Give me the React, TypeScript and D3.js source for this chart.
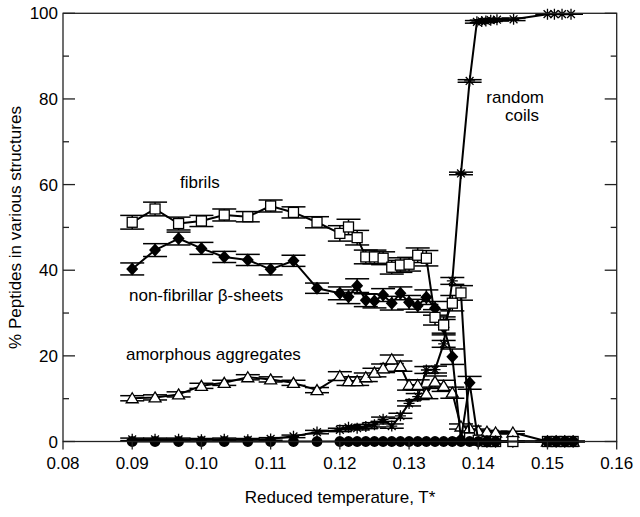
import React from "react";
import * as d3 from "d3";

// Reduced temperature grid (shared by most series)
const temps = [
  0.09, 0.0933, 0.0967, 0.1, 0.1033, 0.1067, 0.11, 0.1133, 0.1167,
  0.12, 0.12125, 0.1225, 0.12375, 0.125, 0.12625, 0.1275, 0.12875, 0.13, 0.13125,
  0.1325, 0.13375, 0.135, 0.13625, 0.1375, 0.13875, 0.14, 0.14125, 0.1425, 0.145,
  0.15, 0.15125, 0.1525, 0.1537,
];
const fibrils = [
  51.2, 54.3, 50.9, 51.5, 52.9, 52.5, 55.0, 53.5, 51.2,
  48.6, 50.1, 47.6, 43.1, 43.1, 42.8, 40.7, 41.2, 41.4, 43.5,
  42.8, 29.0, 27.2, 32.3, 34.7, 0.8, 0.3, 0, 0, 0,
  0, 0, 0, 0,
];
const fibrilsErr = [
  1.6, 1.6, 1.5, 1.3, 1.4, 1.2, 1.4, 1.3, 1.3,
  1.8, 1.8, 1.7, 1.6, 1.6, 1.5, 1.6, 1.7, 1.6, 1.7,
  1.8, 1.8, 1.9, 1.8, 1.7, 0.3, 0.2, 0, 0, 0,
  0, 0, 0, 0,
];
const betaSheets = [
  40.3, 44.7, 47.4, 45.1, 43.1, 42.4, 40.2, 42.2, 35.8,
  34.6, 33.8, 36.4, 33.0, 32.8, 34.2, 32.3, 34.6, 32.5, 31.7,
  33.7, 31.1, 26.7, 19.8, 0.5, 13.7, 0, 0, 0, 0,
  0, 0, 0, 0,
];
const betaErr = [
  1.4, 1.5, 1.5, 1.4, 1.3, 1.3, 1.3, 1.3, 1.2,
  1.5, 1.6, 1.6, 1.5, 1.6, 1.5, 1.6, 1.5, 1.6, 1.5,
  1.7, 1.6, 1.8, 1.8, 0.3, 1.5, 0, 0, 0, 0,
  0, 0, 0, 0,
];
const amorphous = [
  10.1, 10.3, 11.0, 13.0, 13.7, 15.0, 14.5, 13.7, 12.0,
  15.3, 14.1, 14.1, 15.0, 16.1, 17.1, 19.2, 17.6, 13.2, 13.2,
  11.2, 14.0, 13.0, 11.4, 3.5, 3.1, 2.5, 2.3, 2.1, 2.1,
  0, 0, 0, 0,
];
const amorphousErr = [
  0.6, 0.6, 0.6, 0.6, 0.6, 0.6, 0.6, 0.6, 0.6,
  1.0, 1.0, 1.0, 1.0, 1.0, 1.0, 1.0, 1.2, 1.2, 1.2,
  1.2, 1.3, 1.3, 1.3, 0.6, 0.5, 0.4, 0.3, 0.3, 0.3,
  0, 0, 0, 0,
];
// Random coils have a few extra temperatures near T* = 0.14
const tempsCoil = [
  0.09, 0.0933, 0.0967, 0.1, 0.1033, 0.1067, 0.11, 0.1133, 0.1167,
  0.12, 0.12125, 0.1225, 0.12375, 0.125, 0.12625, 0.1275, 0.12875, 0.13, 0.13125,
  0.1325, 0.13375, 0.135, 0.13625, 0.1375, 0.13875, 0.1398, 0.1405, 0.1411, 0.1418, 0.1427, 0.1451,
  0.15, 0.1510, 0.1521, 0.1534,
];
const randomCoils = [
  0.5, 0.5, 0.5, 0.4, 0.5, 0.4, 0.6, 1.2, 2.2,
  2.7, 3.3, 3.1, 3.5, 3.9, 5.2, 3.6, 6.0, 8.9, 10.5,
  16.7, 16.8, 22.8, 37.5, 62.6, 84.2, 98.0, 98.1, 98.2, 98.4, 98.5, 98.6,
  99.8, 99.8, 99.8, 99.8,
];
const randomCoilsErr = [
  0.3, 0.3, 0.3, 0.3, 0.3, 0.3, 0.3, 0.3, 0.4,
  0.4, 0.4, 0.4, 0.5, 0.5, 0.5, 0.5, 0.6, 0.6, 0.7,
  0.8, 0.8, 0.8, 0.8, 0.3, 0.3, 0.3, 0.3, 0.3, 0.3, 0.3, 0.3,
  0, 0, 0, 0,
];
// Remaining (unlabelled) fraction, at zero throughout
const tempsOther = [
  0.09, 0.0933, 0.0967, 0.1, 0.1033, 0.1067, 0.11, 0.1133, 0.1167,
  0.12, 0.12125, 0.1225, 0.12375, 0.125, 0.12625, 0.1275, 0.12875, 0.13, 0.13125,
  0.1325, 0.13375, 0.135, 0.13625, 0.1375, 0.13875, 0.14, 0.14125, 0.1425,
  0.15, 0.15125, 0.1525, 0.1537,
];
const other = [
  0, 0, 0, 0, 0, 0, 0, 0, 0,
  0, 0, 0, 0, 0, 0, 0, 0, 0, 0,
  0, 0, 0, 0, 0, 0, 0, 0, 0,
  0, 0, 0, 0,
];

const xTicks = [0.08, 0.09, 0.1, 0.11, 0.12, 0.13, 0.14, 0.15, 0.16];
const yTicksMajor = [0, 20, 40, 60, 80, 100];
const yTicksMinor = [10, 30, 50, 70, 90];

const W = 640;
const H = 517;
const FONT = "'Liberation Sans', Arial, Helvetica, sans-serif";

type Marker = "square" | "diamond" | "triangle" | "asterisk" | "circle";

function MarkerShape({ kind, x, y }: { kind: Marker; x: number; y: number }) {
  const t = `translate(${x},${y})`;
  if (kind === "square")
    return <rect x={x - 5} y={y - 5} width={10} height={10} fill="#fff" stroke="#000" strokeWidth={1.3} />;
  if (kind === "diamond")
    return <path transform={t} d="M0,-6.5L6,0L0,6.5L-6,0Z" fill="#000" />;
  if (kind === "triangle")
    return <path transform={t} d="M0,-5.5L6,4.5L-6,4.5Z" fill="#fff" stroke="#000" strokeWidth={1.3} />;
  if (kind === "circle") return <circle cx={x} cy={y} r={5.4} fill="#000" />;
  const r = 5.5;
  const d = [0, 45, 90, 135]
    .map((a) => {
      const c = Math.cos((a * Math.PI) / 180) * r;
      const s = Math.sin((a * Math.PI) / 180) * r;
      return `M${-c},${-s}L${c},${s}`;
    })
    .join("");
  return <path transform={t} d={d} stroke="#000" strokeWidth={1.3} fill="none" />;
}

export default function App() {
  const x = d3.scaleLinear().domain([0.08, 0.16]).range([63, 616.7]);
  const y = d3.scaleLinear().domain([0, 100]).range([441.5, 13.3]);

  const series: { xs: number[]; ys: number[]; err: number[] | null; kind: Marker }[] = [
    { xs: tempsCoil, ys: randomCoils, err: randomCoilsErr, kind: "asterisk" },
    { xs: temps, ys: amorphous, err: amorphousErr, kind: "triangle" },
    { xs: temps, ys: betaSheets, err: betaErr, kind: "diamond" },
    { xs: temps, ys: fibrils, err: fibrilsErr, kind: "square" },
    { xs: tempsOther, ys: other, err: null, kind: "circle" },
  ];

  const line = d3
    .line<[number, number]>()
    .x((d) => x(d[0]))
    .y((d) => y(d[1]));

  const capHalf = 12;

  return (
    <svg width={W} height={H} style={{ position: "absolute", left: 0, top: 0, background: "#fff" }} fontFamily={FONT}>
      <rect x={0} y={0} width={W} height={H} fill="#fff" />
      {series.map((s, si) => {
        const pts = s.xs.map((t, i) => [t, s.ys[i]] as [number, number]);
        return (
          <g key={si}>
            <path d={line(pts) || ""} fill="none" stroke="#000" strokeWidth={2} strokeLinejoin="round" />
            {s.err &&
              pts.map((p, i) => {
                const e = s.err![i];
                const cx = x(p[0]);
                const y1 = y(p[1] + e);
                const y2 = y(p[1] - e);
                return (
                  <g key={i} stroke="#000" strokeWidth={1.5}>
                    <line x1={cx} x2={cx} y1={y1} y2={y2} />
                    <line x1={cx - capHalf} x2={cx + capHalf} y1={y1} y2={y1} />
                    <line x1={cx - capHalf} x2={cx + capHalf} y1={y2} y2={y2} />
                  </g>
                );
              })}
            {pts.map((p, i) => (
              <MarkerShape key={i} kind={s.kind} x={x(p[0])} y={y(p[1])} />
            ))}
          </g>
        );
      })}

      {/* frame */}
      <rect x={x(0.08)} y={y(100)} width={x(0.16) - x(0.08)} height={y(0) - y(100)} fill="none" stroke="#222" strokeWidth={1.3} />

      {/* x ticks */}
      {xTicks.map((t) => (
        <g key={t}>
          <line x1={x(t)} x2={x(t)} y1={y(0)} y2={y(0) + 8} stroke="#222" strokeWidth={1.3} />
          <text x={x(t)} y={469} fontSize={17} textAnchor="middle" fill="#000">
            {d3.format(".2f")(t)}
          </text>
        </g>
      ))}

      {/* y ticks */}
      {yTicksMajor.map((t) => (
        <g key={t}>
          <line x1={x(0.08)} x2={x(0.08) + 12} y1={y(t)} y2={y(t)} stroke="#222" strokeWidth={1.3} />
          <line x1={x(0.16)} x2={x(0.16) - 12} y1={y(t)} y2={y(t)} stroke="#222" strokeWidth={1.3} />
          <text x={58} y={y(t) + 6} fontSize={17} textAnchor="end" fill="#000">
            {t}
          </text>
        </g>
      ))}
      {yTicksMinor.map((t) => (
        <g key={t}>
          <line x1={x(0.08)} x2={x(0.08) + 6} y1={y(t)} y2={y(t)} stroke="#222" strokeWidth={1.3} />
          <line x1={x(0.16)} x2={x(0.16) - 6} y1={y(t)} y2={y(t)} stroke="#222" strokeWidth={1.3} />
        </g>
      ))}

      {/* axis titles */}
      <text x={340} y={503} fontSize={17} textAnchor="middle" fill="#000">
        Reduced temperature, T*
      </text>
      <text transform="translate(21,227.5) rotate(-90)" fontSize={17} textAnchor="middle" fill="#000">
        % Peptides in various structures
      </text>

      {/* series labels */}
      <text x={180} y={188} fontSize={17} fill="#000">fibrils</text>
      <text x={129} y={301} fontSize={17} fill="#000">non-fibrillar β-sheets</text>
      <text x={126} y={360} fontSize={17} fill="#000">amorphous aggregates</text>
      <text x={544} y={103} fontSize={17} textAnchor="end" fill="#000">random</text>
      <text x={539} y={121} fontSize={17} textAnchor="end" fill="#000">coils</text>
    </svg>
  );
}
